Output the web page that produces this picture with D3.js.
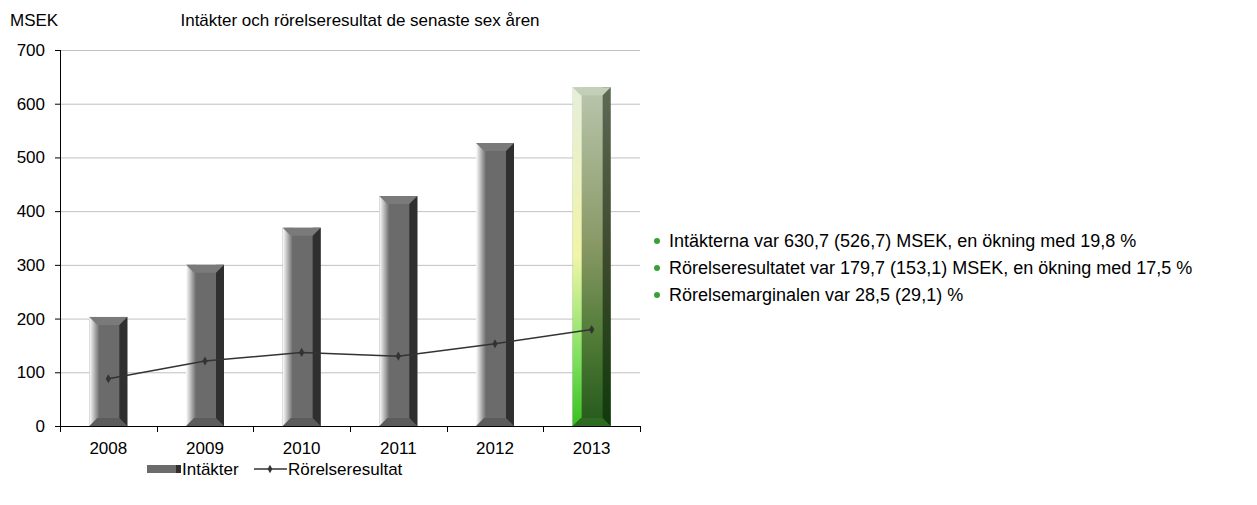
<!DOCTYPE html>
<html><head><meta charset="utf-8">
<script src="https://cdn.jsdelivr.net/npm/d3@7"></script>
<style>body{margin:0;background:#fff;font-family:"Liberation Sans",Arial,sans-serif;}</style>
</head><body><svg id="c" width="1257" height="505"></svg>
<script>
const years = ["2008","2009","2010","2011","2012","2013"];
const intakter = [203, 300, 369, 428, 526.7, 630.7];
const rorelseresultat = [88, 121, 137, 130, 153.1, 179.7];
const yTicks = [0,100,200,300,400,500,600,700];
const bullets = [
  "Intäkterna var 630,7 (526,7) MSEK, en ökning med 19,8 %",
  "Rörelseresultatet var 179,7 (153,1) MSEK, en ökning med 17,5 %",
  "Rörelsemarginalen var 28,5 (29,1) %"
];

const svg = d3.select("#c");
const m = {l:60, r:640, t:50, b:426};
const x = d3.scaleBand().domain(years).range([m.l, m.r]).paddingInner(0).paddingOuter(0);
const y = d3.scaleLinear().domain([0,700]).range([m.b, m.t]);
const defs = svg.append("defs");
const FS = 17;

// gradients
const lg = defs.append("linearGradient").attr("id","leftG").attr("x1",0).attr("x2",1);
lg.append("stop").attr("offset",0).attr("stop-color","#fff");
lg.append("stop").attr("offset",1).attr("stop-color","#6b6b6b");
const gg = defs.append("linearGradient").attr("id","greenBody").attr("x1",0).attr("x2",0).attr("y1",0).attr("y2",1);
gg.append("stop").attr("offset",0).attr("stop-color","#b9c6ad");
gg.append("stop").attr("offset",0.45).attr("stop-color","#8b9a68");
gg.append("stop").attr("offset",0.75).attr("stop-color","#4e7a35");
gg.append("stop").attr("offset",1).attr("stop-color","#25591c");
const gl = defs.append("linearGradient").attr("id","greenLeft").attr("x1",0).attr("x2",0).attr("y1",0).attr("y2",1);
gl.append("stop").attr("offset",0).attr("stop-color","#e6eedc");
gl.append("stop").attr("offset",0.5).attr("stop-color","#f0f5a8");
gl.append("stop").attr("offset",0.8).attr("stop-color","#7fe060");
gl.append("stop").attr("offset",1).attr("stop-color","#38c020");
const gr = defs.append("linearGradient").attr("id","greenRight").attr("x1",0).attr("x2",0).attr("y1",0).attr("y2",1);
gr.append("stop").attr("offset",0).attr("stop-color","#5d6a55");
gr.append("stop").attr("offset",0.5).attr("stop-color","#3d4a2c");
gr.append("stop").attr("offset",1).attr("stop-color","#0f3a0c");

// gridlines
svg.append("g").selectAll("line").data(yTicks.filter(d=>d>0)).join("line")
  .attr("x1",m.l).attr("x2",m.r).attr("y1",d=>y(d)+0.5).attr("y2",d=>y(d)+0.5)
  .attr("stroke","#c0c0c0").attr("stroke-width",1);

// bars
const bw = 38;
function drawBar(g, cx, top, bottom, green){
  const x0 = cx - bw/2, x1 = cx + bw/2, bev = 8, rs = 8;
  if(!green){
    g.append("rect").attr("x",x0).attr("y",top).attr("width",bw).attr("height",bottom-top).attr("fill","#6b6b6b");
    g.append("rect").attr("x",x0).attr("y",top).attr("width",10).attr("height",bottom-top).attr("fill","url(#leftG)");
    g.append("rect").attr("x",x1-rs).attr("y",top).attr("width",rs).attr("height",bottom-top).attr("fill","#2f2f2f");
    g.append("path").attr("d",`M${x0},${top}L${x1},${top}L${x1-rs},${top+bev}L${x0+bev},${top+bev}Z`).attr("fill","#7a7a7a");
    g.append("path").attr("d",`M${x0},${bottom}L${x1},${bottom}L${x1-rs},${bottom-bev}L${x0+bev},${bottom-bev}Z`).attr("fill","#5c5c5c");
  } else {
    g.append("rect").attr("x",x0).attr("y",top).attr("width",bw).attr("height",bottom-top).attr("fill","url(#greenBody)");
    g.append("rect").attr("x",x0).attr("y",top).attr("width",9).attr("height",bottom-top).attr("fill","url(#greenLeft)");
    g.append("rect").attr("x",x1-rs).attr("y",top).attr("width",rs).attr("height",bottom-top).attr("fill","url(#greenRight)");
    g.append("path").attr("d",`M${x0},${top}L${x1},${top}L${x1-rs},${top+bev}L${x0+bev},${top+bev}Z`).attr("fill","#c3cfb8");
    g.append("path").attr("d",`M${x0},${bottom}L${x1},${bottom}L${x1-rs},${bottom-bev}L${x0+bev},${bottom-bev}Z`).attr("fill","#2f6a22");
  }
}
const bars = svg.append("g");
years.forEach((yr,i)=>{
  drawBar(bars.append("g"), x(yr)+x.bandwidth()/2, y(intakter[i]), y(0), i===years.length-1);
});

// axes
const ax = svg.append("g").attr("stroke","#000").attr("stroke-width",1);
ax.append("line").attr("x1",m.l+0.5).attr("x2",m.l+0.5).attr("y1",m.t).attr("y2",m.b+0.5);
ax.append("line").attr("x1",m.l).attr("x2",m.r).attr("y1",m.b+0.5).attr("y2",m.b+0.5);
ax.selectAll(".yt").data(yTicks).join("line").attr("x1",m.l-5).attr("x2",m.l)
  .attr("y1",d=>y(d)+0.5).attr("y2",d=>y(d)+0.5);
const xt = years.map(d=>x(d)).concat([m.r]);
ax.selectAll(".xt").data(xt).join("line").attr("x1",d=>Math.round(d)+0.5).attr("x2",d=>Math.round(d)+0.5)
  .attr("y1",m.b).attr("y2",m.b+6);

svg.append("g").selectAll("text").data(yTicks).join("text")
  .attr("x",45).attr("y",d=>y(d)).attr("dy","0.35em").attr("text-anchor","end")
  .attr("font-size",FS).attr("fill","#000").text(d=>d);
svg.append("g").selectAll("text").data(years).join("text")
  .attr("x",d=>x(d)+x.bandwidth()/2).attr("y",448).attr("dy","0.35em").attr("text-anchor","middle")
  .attr("font-size",FS).attr("fill","#000").text(d=>d);

// line
const line = d3.line().x((d,i)=>x(years[i])+x.bandwidth()/2).y(d=>y(d));
svg.append("path").datum(rorelseresultat).attr("d",line).attr("fill","none").attr("stroke","#333").attr("stroke-width",1.5);
svg.append("g").selectAll("path").data(rorelseresultat).join("path")
  .attr("transform",(d,i)=>`translate(${x(years[i])+x.bandwidth()/2},${y(d)})`)
  .attr("d",d3.symbol(d3.symbolDiamond,24)).attr("fill","#333");

// title & unit
svg.append("text").attr("x",10).attr("y",20).attr("dy","0.35em").attr("font-size",FS).text("MSEK");
svg.append("text").attr("x",360).attr("y",20).attr("dy","0.35em").attr("text-anchor","middle").attr("font-size",FS)
  .text("Intäkter och rörelseresultat de senaste sex åren");

// legend
const lgG = svg.append("g");
lgG.append("path").attr("d","M147,465L181,465L178,469L181,473L147,473Z").attr("fill","#6b6b6b");
lgG.append("rect").attr("x",176).attr("y",465).attr("width",5).attr("height",8).attr("fill","#2f2f2f");
lgG.append("text").attr("x",182).attr("y",469).attr("dy","0.35em").attr("font-size",FS).text("Intäkter");
lgG.append("line").attr("x1",254).attr("x2",287).attr("y1",469).attr("y2",469).attr("stroke","#333").attr("stroke-width",1.5);
lgG.append("path").attr("transform","translate(270,469)").attr("d",d3.symbol(d3.symbolDiamond,20)).attr("fill","#333");
lgG.append("text").attr("x",288).attr("y",469).attr("dy","0.35em").attr("font-size",FS).text("Rörelseresultat");

// bullets
const bl = svg.append("g");
bullets.forEach((t,i)=>{
  const yy = 241 + i*27;
  bl.append("circle").attr("cx",657).attr("cy",yy).attr("r",3).attr("fill","#3aa035");
  bl.append("text").attr("x",669).attr("y",yy).attr("dy","0.35em").attr("font-size",18).attr("fill","#000").text(t);
});
</script></body></html>
